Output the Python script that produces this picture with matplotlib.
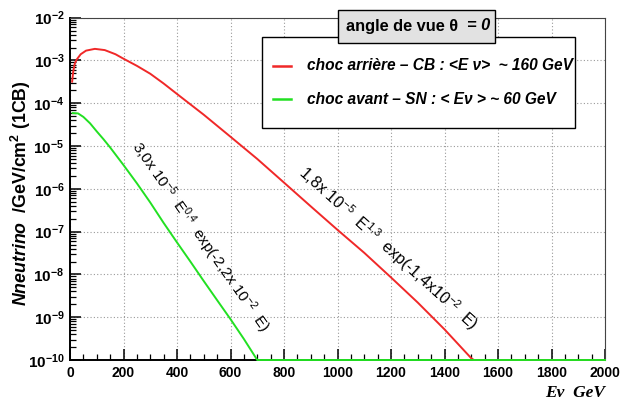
import matplotlib.pyplot as plt
import numpy as np
from matplotlib.patches import Rectangle
from matplotlib.ticker import FixedLocator, FuncFormatter, LogLocator, MultipleLocator, NullFormatter

# ── Data ────────────────────────────────────────────────────────────────────
E_cb = [8, 12, 18, 25, 40, 60, 93, 130, 170, 200, 250, 300, 350, 400, 500,
        600, 700, 800, 900, 1000, 1100, 1200, 1300, 1400, 1500, 1510, 2000]
N_cb = [3.2e-4, 5.5e-4, 8.5e-4, 1.05e-3, 1.4e-3, 1.7e-3, 1.87e-3, 1.75e-3,
        1.4e-3, 1.1e-3, 7.5e-4, 4.9e-4, 2.9e-4, 1.65e-4, 5.4e-5, 1.65e-5,
        5.0e-6, 1.4e-6, 3.9e-7, 1.1e-7, 3.2e-8, 8.5e-9, 2.2e-9, 5.2e-10,
        1.1e-10, 1.0e-10, 1.0e-10]

E_sn = [10, 30, 50, 75, 100, 125, 150, 200, 250, 300, 350, 400, 450, 500,
        550, 600, 650, 700, 2000]
N_sn = [5.9e-5, 5.8e-5, 4.8e-5, 3.4e-5, 2.2e-5, 1.45e-5, 9.3e-6, 3.6e-6,
        1.35e-6, 4.8e-7, 1.6e-7, 5.6e-8, 2.0e-8, 7.0e-9, 2.5e-9, 9.0e-10,
        3.1e-10, 1.0e-10, 1.0e-10]

label_cb = "choc arrière – CB : <E ν>  ~ 160 GeV"
label_sn = "choc avant – SN : < Eν > ~ 60 GeV"
fit_sn = r"3,0x 10$^{-5}$  E$^{0{,}4}$  exp(-2,2x 10$^{-2}$  E)"
fit_cb = r"1,8x 10$^{-5}$  E$^{1{,}3}$  exp(-1,4x10$^{-2}$  E)"

# ── Style ──────────────────────────────────────────────────────────────────
plt.rcParams["font.family"] = "Liberation Sans"
plt.rcParams["font.weight"] = "bold"
plt.rcParams["mathtext.fontset"] = "custom"
plt.rcParams["mathtext.rm"] = "Liberation Sans:bold"
plt.rcParams["mathtext.bf"] = "Liberation Sans:bold"
plt.rcParams["mathtext.it"] = "Liberation Sans:italic:bold"
plt.rcParams["mathtext.default"] = "regular"

RED   = "#f02828"
GREEN = "#22e022"

fig = plt.figure(figsize=(6.22, 4.04), dpi=100)
W, H = 622, 404
ax = fig.add_axes([70 / W, 1 - 360 / H, 535 / W, (360 - 17.7) / H])

ax.plot(E_cb, N_cb, color=RED, lw=1.4, clip_on=False, zorder=3)
ax.plot(E_sn, N_sn, color=GREEN, lw=1.4, clip_on=False, zorder=3)

ax.set_yscale("log")
ax.set_xlim(0, 2000)
ax.set_ylim(1e-10, 1e-2)

# ── Axes / ticks ───────────────────────────────────────────────────────────
ax.xaxis.set_major_locator(MultipleLocator(200))
ax.xaxis.set_minor_locator(MultipleLocator(50))
ax.yaxis.set_major_locator(FixedLocator([10.0 ** k for k in range(-10, -1)]))
ax.yaxis.set_minor_locator(LogLocator(base=10, subs=np.arange(2, 10), numticks=20))
ax.yaxis.set_minor_formatter(NullFormatter())
ax.yaxis.set_major_formatter(FuncFormatter(
    lambda v, p: r"10$^{%d}$" % round(np.log10(v))))

ax.tick_params(which="both", direction="in", top=False, right=False)
ax.tick_params(which="major", length=8, width=1.1)
ax.tick_params(which="minor", length=4, width=0.9)
ax.tick_params(axis="x", labelsize=10, pad=4)
ax.tick_params(axis="y", labelsize=11, pad=4)

for s in ["left", "bottom"]:
    ax.spines[s].set_linewidth(1.4)
for s in ["top", "right"]:
    ax.spines[s].set_linewidth(0.8)
    ax.spines[s].set_color("#444444")

ax.grid(True, which="major", color="#9a9a9a", linestyle=(0, (1, 2)), lw=0.8)
ax.set_axisbelow(True)

# ── Fit annotations along the curves ───────────────────────────────────────
ax.text(486, 10 ** -7.12, fit_sn, rotation=-55, rotation_mode="anchor",
        ha="center", va="center", fontsize=11, weight="normal", zorder=4)
ax.text(1189, 10 ** -7.40, fit_cb, rotation=-42, rotation_mode="anchor",
        ha="center", va="center", fontsize=11.5, weight="normal", zorder=4)

# ── Legend box ─────────────────────────────────────────────────────────────
fig.patches.append(Rectangle((262 / W, 1 - 128 / H), (575 - 262) / W, (128 - 37.3) / H,
                             transform=fig.transFigure, facecolor="white",
                             edgecolor="black", lw=1, zorder=5))
for yy, col, lab in [(66, RED, label_cb), (99, GREEN, label_sn)]:
    fig.lines.append(plt.Line2D([273 / W, 291 / W], [1 - yy / H] * 2, color=col, lw=1.8,
                                transform=fig.transFigure, zorder=6))
    fig.text(307 / W, 1 - yy / H, lab, ha="left", va="center", fontsize=11.2,
             style="italic", zorder=6)

# title box
fig.patches.append(Rectangle((338 / W, 1 - 42.7 / H), (495 - 338) / W, (42.7 - 10) / H,
                             transform=fig.transFigure, facecolor="#e2e2e2",
                             edgecolor="black", lw=1, zorder=7))
fig.text(346 / W, 1 - 26 / H, "angle de vue θ", ha="left", va="center",
         fontsize=11.8, zorder=8)
fig.text(467 / W, 1 - 26 / H, "= 0", ha="left", va="center",
         fontsize=11.8, style="italic", zorder=8)

# ── Axis titles ────────────────────────────────────────────────────────────
fig.text(21 / W, 1 - 193 / H, r"$\mathit{Nneutrino}$  /GeV/cm$^{2}$ (1CB)",
         rotation=90, ha="center", va="center", fontsize=12.8)
fig.text(605 / W, 1 - 393 / H, "Eν  GeV", ha="right", va="center", fontsize=12.5,
         family="Liberation Serif", style="italic")

fig.savefig("out.png", dpi=100)
